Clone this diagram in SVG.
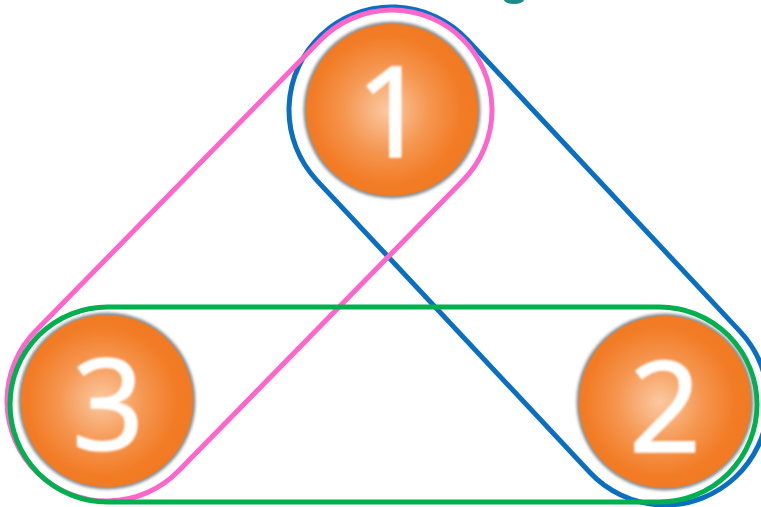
<svg xmlns="http://www.w3.org/2000/svg" width="761" height="507" viewBox="0 0 761 507">
  <defs>
    <radialGradient id="orb" cx="0.47" cy="0.5" r="0.55">
      <stop offset="0" stop-color="#fbc9a2"/>
      <stop offset="0.45" stop-color="#f59650"/>
      <stop offset="0.8" stop-color="#f27b25"/>
      <stop offset="1" stop-color="#f07a22"/>
    </radialGradient>
    <filter id="blur" x="-10%" y="-10%" width="120%" height="120%">
      <feGaussianBlur stdDeviation="1.6"/>
    </filter>
    <filter id="soft" x="-10%" y="-10%" width="120%" height="120%">
      <feGaussianBlur stdDeviation="0.8"/>
    </filter>
  </defs>
  <style>
    .loop { fill: none; stroke-width: 5; }
    .blue { stroke: #0a6fc0; }
    .pink { stroke: #ff66cc; }
    .green { stroke: #00b04f; }
    .halo { fill: #8c8c8c; }
    .disc { fill: url(#orb); }
    .num { font-family: "Noto Sans", "DejaVu Sans", sans-serif; font-size: 126px; font-weight: 400; fill: #ffffff; stroke: #ffffff; stroke-width: 1.5; stroke-linejoin: round; text-anchor: middle; }
  </style>
  <rect width="761" height="507" fill="#ffffff"/>
  <ellipse cx="514" cy="0" rx="10" ry="4" fill="#1e8a8a"/>
  <g id="connectors">
    <rect class="loop blue" transform="translate(392,110) rotate(46.93)" x="-103" y="-103" width="605.7" height="206" rx="103"/>
    <rect class="loop pink" transform="translate(392,110) rotate(134.4)" x="-100" y="-100" width="607.3" height="200" rx="100"/>
    <rect class="loop green" x="10" y="307" width="747" height="195" rx="97.5"/>
  </g>
  <g id="node1">
    <circle class="halo" cx="392" cy="110" r="88.5" filter="url(#blur)"/>
    <circle class="disc" cx="392" cy="110" r="86"/>
    <text class="num" x="392" y="157" filter="url(#soft)">1</text>
  </g>
  <g id="node2">
    <circle class="halo" cx="665" cy="402" r="88.5" filter="url(#blur)"/>
    <circle class="disc" cx="665" cy="402" r="86"/>
    <text class="num" x="665" y="452" filter="url(#soft)">2</text>
  </g>
  <g id="node3">
    <circle class="halo" cx="107" cy="401" r="88.5" filter="url(#blur)"/>
    <circle class="disc" cx="107" cy="401" r="86"/>
    <text class="num" x="108" y="450" filter="url(#soft)">3</text>
  </g>
</svg>
